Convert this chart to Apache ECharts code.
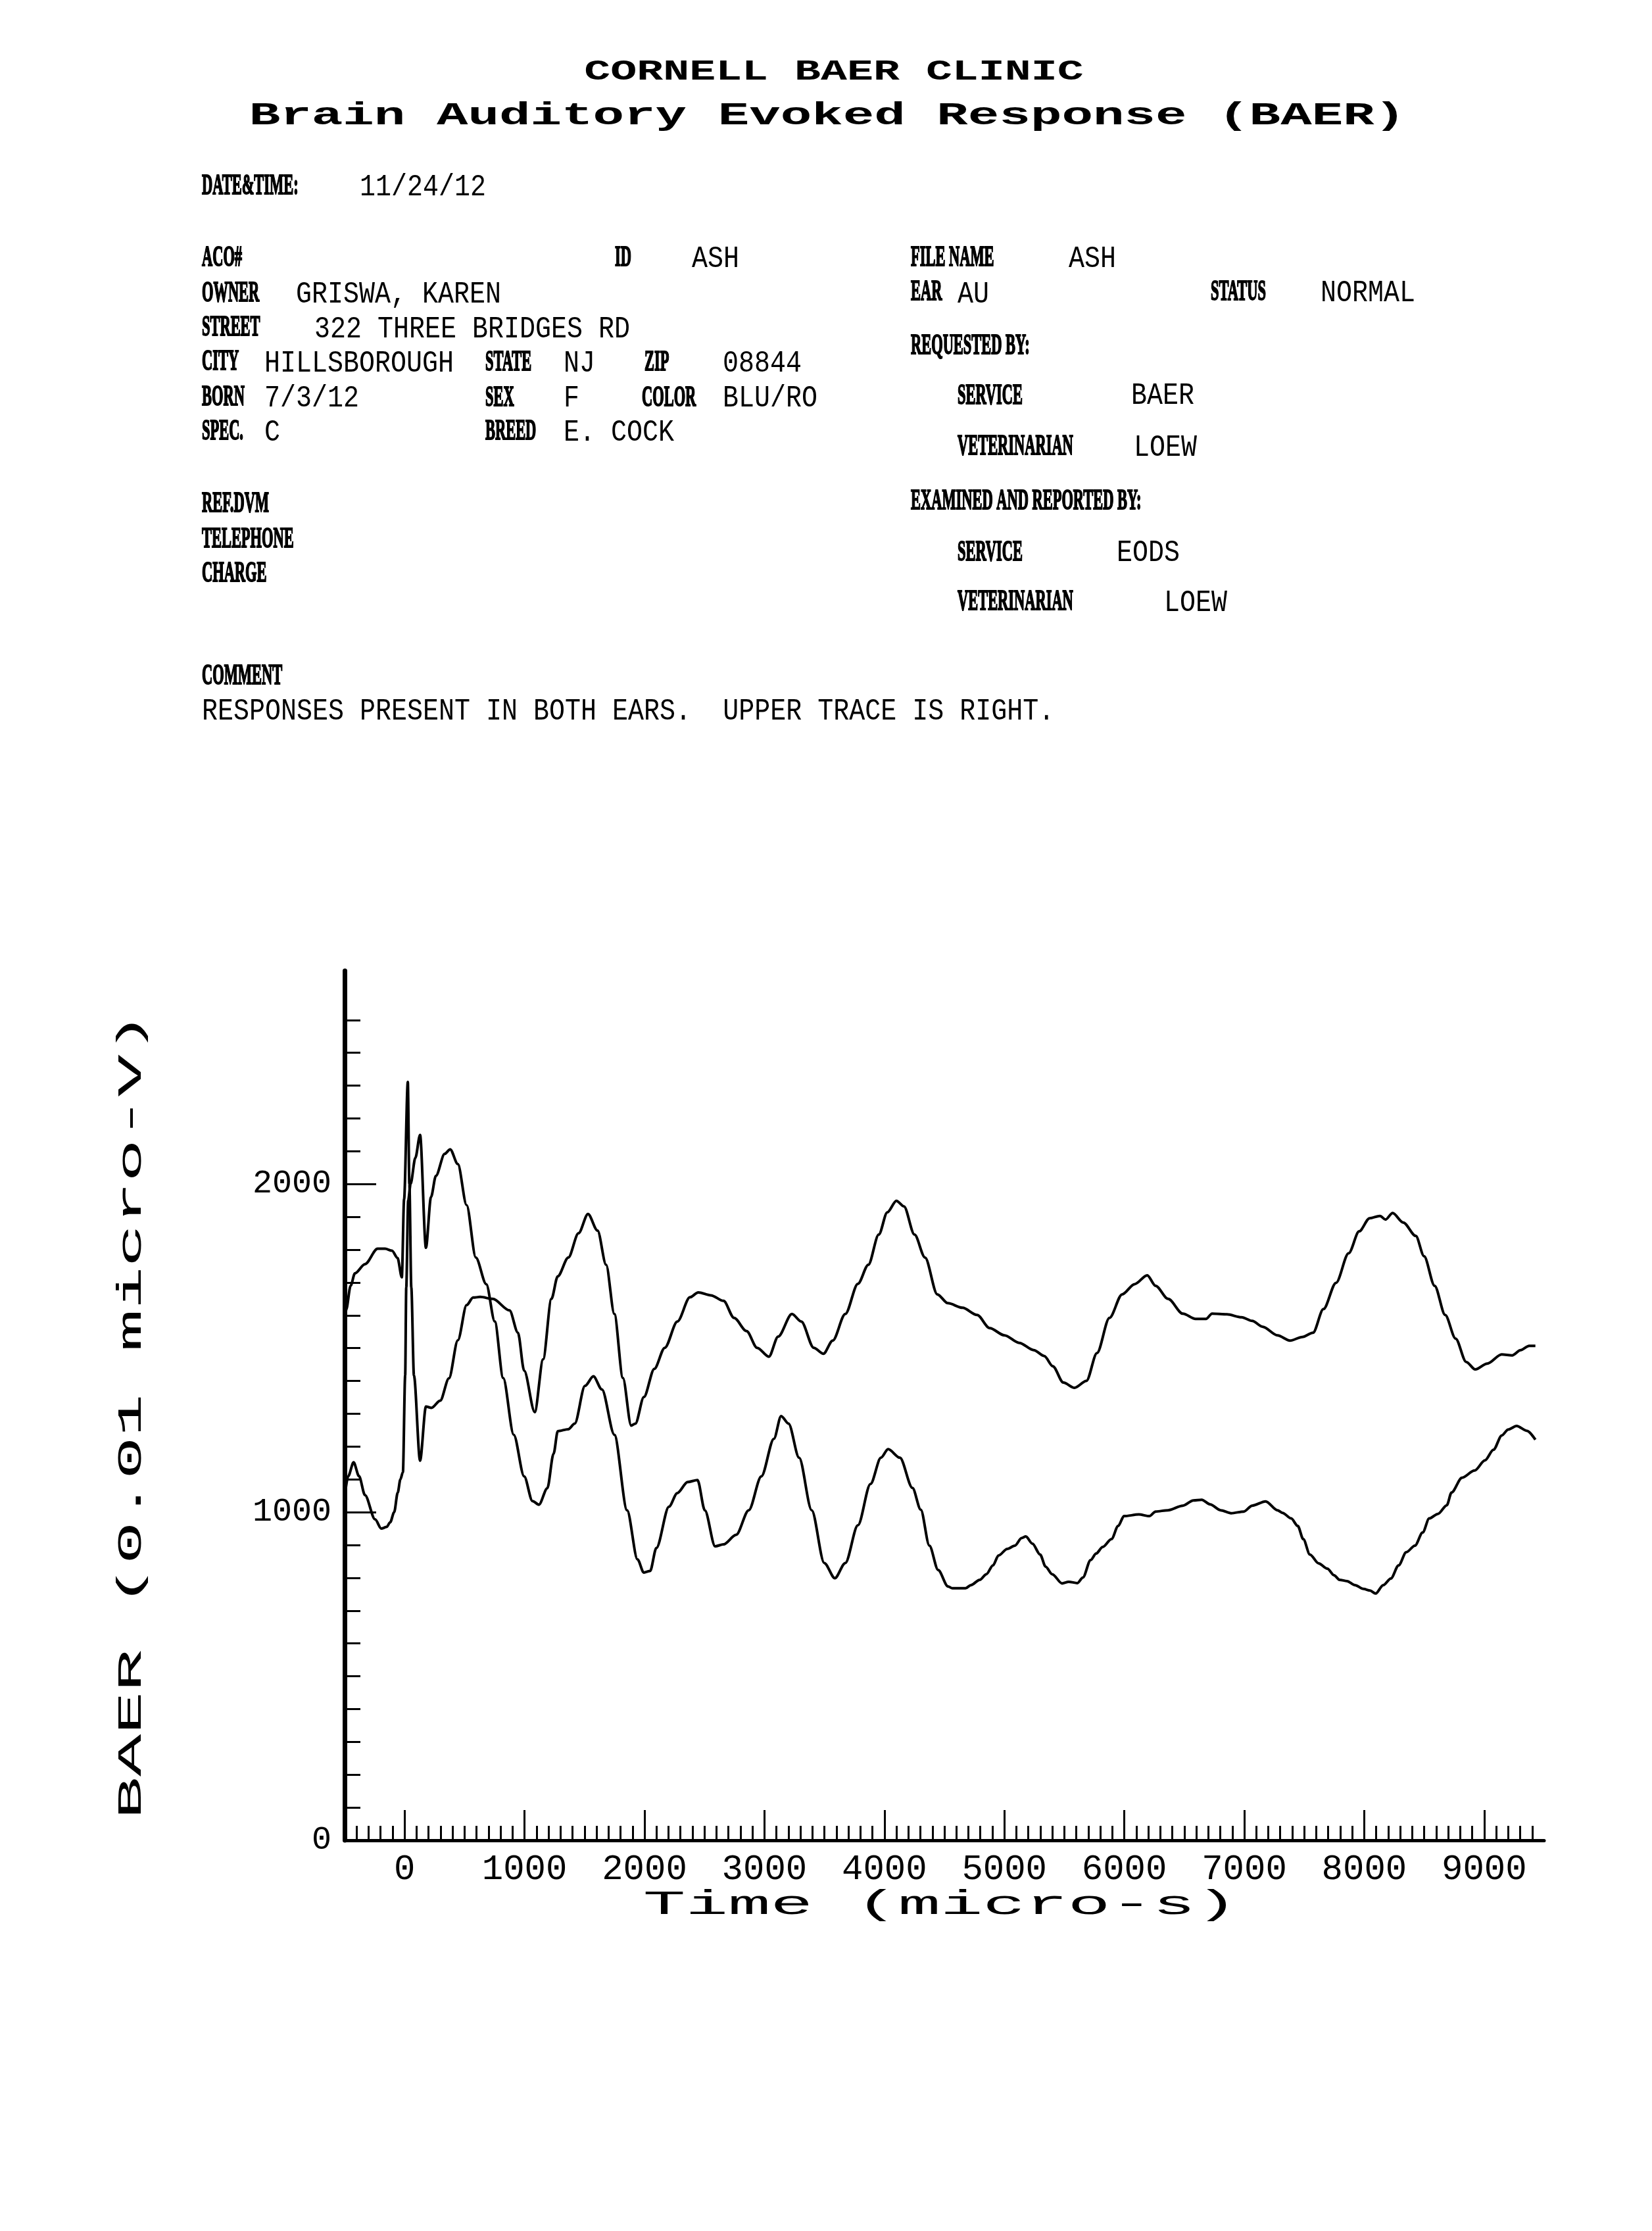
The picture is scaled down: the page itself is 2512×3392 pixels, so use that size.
<!DOCTYPE html>
<html>
<head>
<meta charset="utf-8">
<script src="https://cdn.jsdelivr.net/npm/echarts@6/dist/echarts.min.js"></script>
<style>
html,body{margin:0;padding:0;background:#fff;}
#chart{width:2512px;height:3392px;}
</style>
</head>
<body>
<div id="chart"></div>
<script>
// ---------- DATA ----------
// Upper trace (right ear): time in micro-s, BAER in 0.01 micro-V
const rightEarTime = [-500,-487,-450,-414,-330,-225,-162,-105,-59,-23,-4,27,40,56,78,129,178,224,297,370,444,517,571,630,735,875,945,997,1085,1155,1224,1277,1365,1450,1529,1609,1680,1749,1820,1889,1924,1995,2082,2169,2274,2379,2449,2554,2659,2747,2851,2939,3037,3114,3229,3307,3411,3492,3569,3674,3779,3866,3953,4024,4100,4163,4251,4339,4441,4529,4651,4773,4878,5001,5124,5245,5333,5404,5492,5585,5684,5772,5876,5982,6086,6191,6261,6365,6488,6594,6681,6732,6856,6978,7066,7154,7277,7381,7484,7573,7660,7765,7870,7958,8045,8131,8178,8237,8325,8430,8499,8587,8675,8762,8850,8926,9025,9146,9233,9304,9375,9427];
const rightEarBaer = [1534,1617,1690,1728,1756,1803,1803,1797,1775,1716,1954,2311,2000,1685,1417,1157,1322,1318,1340,1408,1524,1631,1654,1656,1650,1615,1547,1431,1305,1466,1650,1719,1776,1850,1909,1858,1754,1604,1409,1264,1270,1351,1437,1501,1581,1655,1670,1661,1644,1592,1552,1501,1474,1535,1604,1581,1501,1483,1523,1604,1696,1754,1846,1914,1949,1932,1846,1776,1664,1637,1623,1601,1561,1539,1516,1494,1476,1445,1395,1379,1400,1485,1592,1664,1695,1722,1690,1650,1605,1589,1589,1605,1603,1594,1583,1565,1539,1523,1534,1547,1619,1699,1789,1856,1896,1903,1892,1912,1883,1842,1780,1690,1601,1529,1458,1435,1453,1481,1478,1494,1507,1507];

// Lower trace (left ear)
const leftEarTime = [-500,-470,-425,-380,-330,-246,-194,-150,-120,-87,-57,-35,-14,5,14,30,50,90,129,178,220,261,334,380,444,517,594,681,752,822,910,997,1066,1120,1190,1242,1277,1365,1418,1504,1574,1645,1749,1855,1942,1994,2047,2099,2204,2273,2360,2442,2503,2589,2659,2764,2869,2974,3079,3139,3201,3289,3394,3499,3587,3674,3779,3884,3971,4031,4129,4234,4303,4375,4448,4530,4567,4676,4722,4795,4850,4905,4951,5024,5088,5143,5179,5234,5298,5344,5399,5481,5536,5609,5655,5719,5765,5820,5893,5949,5997,6121,6209,6261,6365,6488,6576,6645,6715,6803,6891,6996,7066,7178,7277,7319,7391,7446,7492,7547,7620,7693,7748,7794,7857,7922,7995,8049,8095,8159,8222,8287,8350,8423,8487,8542,8615,8688,8728,8815,8920,9007,9077,9147,9200,9270,9357,9427];
const leftEarBaer = [1045,1110,1152,1110,1052,978,950,955,969,1000,1060,1100,1122,1417,1685,1950,2000,2080,2150,1806,1960,2025,2092,2106,2061,1936,1776,1695,1581,1409,1236,1109,1034,1023,1073,1178,1247,1253,1270,1385,1414,1374,1236,1006,856,816,821,891,1017,1058,1092,1098,1006,896,902,931,1006,1109,1224,1293,1270,1166,1006,845,799,845,960,1086,1166,1192,1166,1074,1008,898,824,774,768,768,778,794,811,838,868,888,898,921,926,904,871,834,811,783,788,784,801,854,874,894,918,958,988,993,988,1002,1006,1020,1036,1038,1024,1006,997,1002,1020,1033,1006,998,981,958,918,871,844,828,808,794,790,778,766,761,752,778,798,838,878,898,938,981,995,1021,1060,1105,1127,1158,1190,1234,1252,1263,1248,1221];

// Axis ranges and tick labels
const timeMin = -500, timeMax = 9500;
const baerMin = 0, baerMax = 2650;
const timeLabelValues = [0,1000,2000,3000,4000,5000,6000,7000,8000,9000];
const baerLabelValues = [0,1000,2000];
const xAxisName = 'Time (micro-s)';
const yAxisName = 'BAER (0.01 micro-V)';

// minor tick positions (every 100)
const timeMinorTicks = [];
for (let t = -400; t <= 9400; t += 100) timeMinorTicks.push(t);
const baerMinorTicks = [];
for (let v = 100; v <= 2500; v += 100) baerMinorTicks.push(v);

// ---------- HEADER TEXT ----------
const headerItems = [
  ['CORNELL BAER CLINIC', 1268, 110, 'title1', 'center'],
  ['Brain Auditory Evoked Response (BAER)', 1258, 177, 'title2', 'center'],
  ['DATE&TIME:', 307, 284, 'label'], ['11/24/12', 547, 285, 'value'],
  ['ACO#', 307, 393, 'label'], ['ID', 935, 393, 'label'], ['ASH', 1052, 394, 'value'],
  ['OWNER', 307, 447, 'label'], ['GRISWA, KAREN', 450, 448, 'value'],
  ['STREET', 307, 499, 'label'], ['322 THREE BRIDGES RD', 478, 501, 'value'],
  ['CITY', 307, 551, 'label'], ['HILLSBOROUGH', 402, 553, 'value'],
  ['STATE', 738, 552, 'label'], ['NJ', 857, 553, 'value'],
  ['ZIP', 980, 552, 'label'], ['08844', 1099, 553, 'value'],
  ['BORN', 307, 605, 'label'], ['7/3/12', 402, 606, 'value'],
  ['SEX', 738, 606, 'label'], ['F', 857, 606, 'value'],
  ['COLOR', 976, 606, 'label'], ['BLU/RO', 1099, 606, 'value'],
  ['SPEC.', 307, 657, 'label'], ['C', 402, 658, 'value'],
  ['BREED', 738, 657, 'label'], ['E. COCK', 857, 658, 'value'],
  ['REF.DVM', 307, 767, 'label'],
  ['TELEPHONE', 307, 821, 'label'],
  ['CHARGE', 307, 873, 'label'],
  ['COMMENT', 307, 1029, 'label'],
  ['RESPONSES PRESENT IN BOTH EARS.  UPPER TRACE IS RIGHT.', 307, 1082, 'value'],
  ['FILE NAME', 1385, 393, 'label'], ['ASH', 1625, 394, 'value'],
  ['EAR', 1385, 445, 'label'], ['AU', 1456, 448, 'value'],
  ['STATUS', 1841, 445, 'label'], ['NORMAL', 2008, 446, 'value'],
  ['REQUESTED BY:', 1385, 527, 'label'],
  ['SERVICE', 1456, 603, 'label'], ['BAER', 1720, 602, 'value'],
  ['VETERINARIAN', 1456, 680, 'label'], ['LOEW', 1724, 681, 'value'],
  ['EXAMINED AND REPORTED BY:', 1385, 763, 'label'],
  ['SERVICE', 1456, 841, 'label'], ['EODS', 1698, 841, 'value'],
  ['VETERINARIAN', 1456, 916, 'label'], ['LOEW', 1770, 917, 'value']
];

const KINDS = {
  title1: {font: 'bold 45px "Liberation Mono"', sx: 1.48, sy: 1, stroke: 0},
  title2: {font: 'bold 48px "Liberation Mono"', sx: 1.65, sy: 1, stroke: 0},
  label:  {font: 'bold 44px "Liberation Serif"', sx: 0.51, sy: 1, stroke: 2},
  value:  {font: '40px "Liberation Mono"', sx: 1, sy: 1.14, stroke: 0},
  axisName: {font: '52px "Liberation Mono"', sx: 2.07, sy: 1, stroke: 0}
};

function textEl(text, x, y, kind, align, rotation) {
  const k = KINDS[kind];
  const style = {text: text, font: k.font, fill: '#000', align: align || 'left', verticalAlign: 'middle'};
  if (k.stroke) { style.stroke = '#000'; style.lineWidth = k.stroke; }
  return {
    type: 'text', x: x, y: y, scaleX: k.sx, scaleY: k.sy, rotation: rotation || 0,
    silent: true, style: style
  };
}

const graphics = headerItems.map(it => textEl(it[0], it[1], it[2], it[3], it[4]));
graphics.push(textEl(xAxisName, 1430, 2896, 'axisName', 'center'));
graphics.push(textEl(yAxisName, 200, 2152, 'axisName', 'center', Math.PI / 2));

// ---------- CHART ----------
const chart = echarts.init(document.getElementById('chart'), null, {renderer: 'canvas'});
const plainNumber = v => String(v);

chart.setOption({
  animation: false,
  backgroundColor: '#ffffff',
  graphic: graphics,
  grid: {left: 524, top: 1476, width: 1824, height: 1322, outerBoundsMode: 'none', containLabel: false},
  xAxis: [
    {
      type: 'value', min: timeMin, max: timeMax, position: 'bottom',
      axisLine: {show: true, onZero: false, lineStyle: {color: '#000', width: 5}},
      axisTick: {show: true, inside: true, length: 22, lineStyle: {color: '#000', width: 3}, customValues: timeMinorTicks},
      axisLabel: {show: true, margin: 18, customValues: timeLabelValues, formatter: plainNumber,
                  color: '#000', fontFamily: 'Liberation Mono', fontSize: 54},
      splitLine: {show: false}
    },
    {
      type: 'value', min: timeMin, max: timeMax, position: 'bottom',
      axisLine: {show: false, onZero: false},
      axisTick: {show: true, inside: true, length: 46, lineStyle: {color: '#000', width: 3}, customValues: timeLabelValues},
      axisLabel: {show: false},
      splitLine: {show: false}
    }
  ],
  yAxis: [
    {
      type: 'value', min: baerMin, max: baerMax, position: 'left',
      axisLine: {show: true, onZero: false, lineStyle: {color: '#000', width: 7}},
      axisTick: {show: true, inside: true, length: 24, lineStyle: {color: '#000', width: 3}, customValues: baerMinorTicks},
      axisLabel: {show: true, margin: 20, customValues: baerLabelValues, formatter: plainNumber,
                  color: '#000', fontFamily: 'Liberation Mono', fontSize: 50},
      splitLine: {show: false}
    },
    {
      type: 'value', min: baerMin, max: baerMax, position: 'left',
      axisLine: {show: false, onZero: false},
      axisTick: {show: true, inside: true, length: 48, lineStyle: {color: '#000', width: 3}, customValues: [1000, 2000]},
      axisLabel: {show: false},
      splitLine: {show: false}
    }
  ],
  series: [
    {
      name: 'Right ear (upper trace)', type: 'line', xAxisIndex: 0, yAxisIndex: 0,
      data: rightEarTime.map((t, i) => [t, rightEarBaer[i]]),
      showSymbol: false, smooth: 0.3, smoothMonotone: 'x', silent: true,
      lineStyle: {color: '#000', width: 4}
    },
    {
      name: 'Left ear (lower trace)', type: 'line', xAxisIndex: 0, yAxisIndex: 0,
      data: leftEarTime.map((t, i) => [t, leftEarBaer[i]]),
      showSymbol: false, smooth: 0.3, smoothMonotone: 'x', silent: true,
      lineStyle: {color: '#000', width: 4}
    }
  ]
});
</script>
</body>
</html>
